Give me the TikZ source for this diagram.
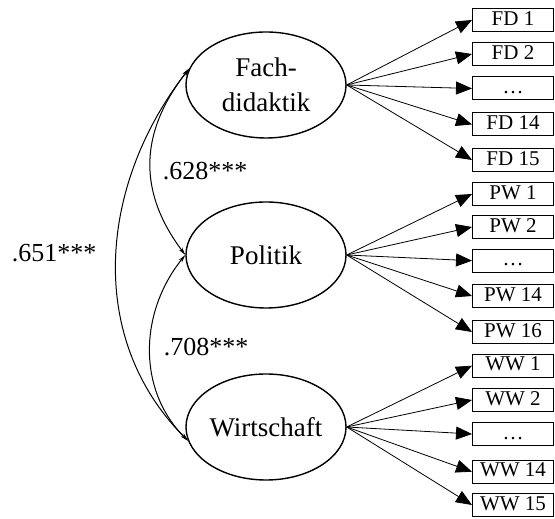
\documentclass[tikz,border=0pt]{standalone}
\usepackage{fontspec}
\setmainfont{Liberation Serif}
\usetikzlibrary{arrows.meta,shapes.geometric}

\tikzset{%
  factor/.style={
    ellipse,
    draw,
    line width=0.7pt,
    minimum width=80pt,
    minimum height=53pt,
    inner sep=0pt,
    align=center,
    font=\fontsize{13.5}{17.5}\selectfont
  },
  item/.style={
    rectangle,
    draw,
    line width=0.5pt,
    minimum width=40.5pt,
    minimum height=11.5pt,
    inner sep=0pt,
    text height=7.3pt,
    text depth=2.2pt,
    font=\fontsize{10.5}{12}\selectfont
  },
  load/.style={
    line width=0.4pt,
    -{Triangle[length=8pt,width=6.5pt]}
  },
  corr/.style={
    line width=0.5pt,
    {Stealth[length=4pt,width=2pt]}-{Stealth[length=4pt,width=2pt]}
  },
  coef/.style={
    font=\fontsize{13}{15}\selectfont
  },
}

\begin{document}
\begin{tikzpicture}[x=0.5pt,y=0.5pt]
\useasboundingbox (0,0) rectangle (555,518);
% latent factors
\node[factor] (fd) at (266,433) {Fach-\\didaktik};
\node[factor] (pw) at (266,263) {Politik};
\node[factor] (ww) at (266,91) {Wirtschaft};
% items
\foreach \n/\y/\t in {1/498/FD 1, 2/464/FD 2, 3/429.5/…, 4/393.5/FD 14, 5/358/FD 15}
  {\node[item] (fd\n) at (513,\y) {\t};
   \draw[load] (fd.east) -- (fd\n.west);}
\foreach \n/\y/\t in {1/324/PW 1, 2/291/PW 2, 3/257.3/…, 4/222/PW 14, 5/186/PW 16}
  {\node[item] (pw\n) at (513,\y) {\t};
   \draw[load] (pw.east) -- (pw\n.west);}
\foreach \n/\y/\t in {1/152.3/WW 1, 2/118/WW 2, 3/84/…, 4/46.3/WW 14, 5/13/WW 15}
  {\node[item] (ww\n) at (513,\y) {\t};
   \draw[load] (ww.east) -- (ww\n.west);}
% correlations
\draw[corr] (fd.168) to[out=232,in=127,looseness=1.1] (pw.west);
\draw[corr] (pw.west) to[out=231,in=135] (ww.190);
\draw[corr] (fd.168) to[out=232,in=135] (ww.190);
\node[coef] (r1) at (205,347) {.628***};
\node[coef] (r2) at (54,265) {.651***};
\node[coef] (r3) at (206,171) {.708***};
\end{tikzpicture}
\end{document}
